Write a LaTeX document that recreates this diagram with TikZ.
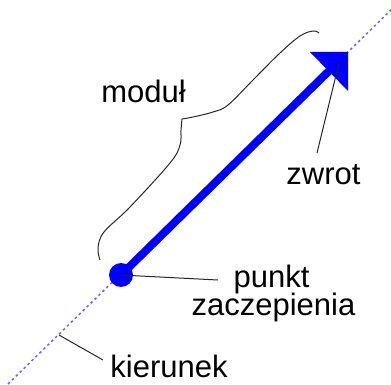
\documentclass[tikz,border=0pt]{standalone}
\usepackage{fontspec}
\setmainfont{Liberation Sans}
\begin{document}
\begin{tikzpicture}[x=1pt,y=-1pt,
  lbl/.style={font=\fontsize{31}{34}\selectfont, inner sep=0pt, anchor=base},
  leader/.style={draw=black!85, line width=1pt},
  dirline/.style={draw={rgb,255:red,100;green,100;blue,255}, line width=1.5pt, dash pattern=on 2.5pt off 3pt}]
\useasboundingbox (0,0) rectangle (391,385);
\clip (0,0) rectangle (391,385);
% direction line
\coordinate (D0) at (8,384);
\coordinate (D1) at (392,9);
\draw[dirline] (D0) -- (D1);
% vector
\coordinate (T) at (348,52);
\coordinate (H1) at (310,52);
\coordinate (H2) at (348,91);
\coordinate (HB) at (332,68);
\node[circle, fill=blue, minimum size=24pt, inner sep=0pt] (P) at (121,275) {};
\draw[blue, line width=8pt] (P.center) -- (HB);
\fill[blue] (H1) -- (T) -- (H2) -- cycle;
% brace
\draw[black!85, line width=1pt] plot[smooth, tension=0.6] coordinates {(100,260) (98,248) (104,232) (130,207) (170,163) (180,145) (181,130) (182,119)};
\draw[black!85, line width=1pt] plot[smooth, tension=0.6] coordinates {(182,119) (193,117) (213,112) (228,105) (253,80) (280,53) (300,36) (313,31) (319,33)};
% labels
\node[lbl] (modul) at (143.5,103) {moduł};
\node[lbl] (zwrot) at (323.5,185) {zwrot};
\node[lbl] (punkt) at (271.5,287) {punkt};
\node[lbl] (zacz) at (273.5,315) {zaczepienia};
\node[lbl] (kier) at (169,377) {kierunek};
% leaders
\coordinate (zA) at (339,63);
\coordinate (zB) at (317,153);
\draw[leader] (zA) -- (zB);
\coordinate (pB) at (218,280);
\draw[leader] (P.center) -- (pB);
\coordinate (kA) at (59,335);
\coordinate (kB) at (103,360);
\draw[leader] (kA) -- (kB);
\end{tikzpicture}
\end{document}
